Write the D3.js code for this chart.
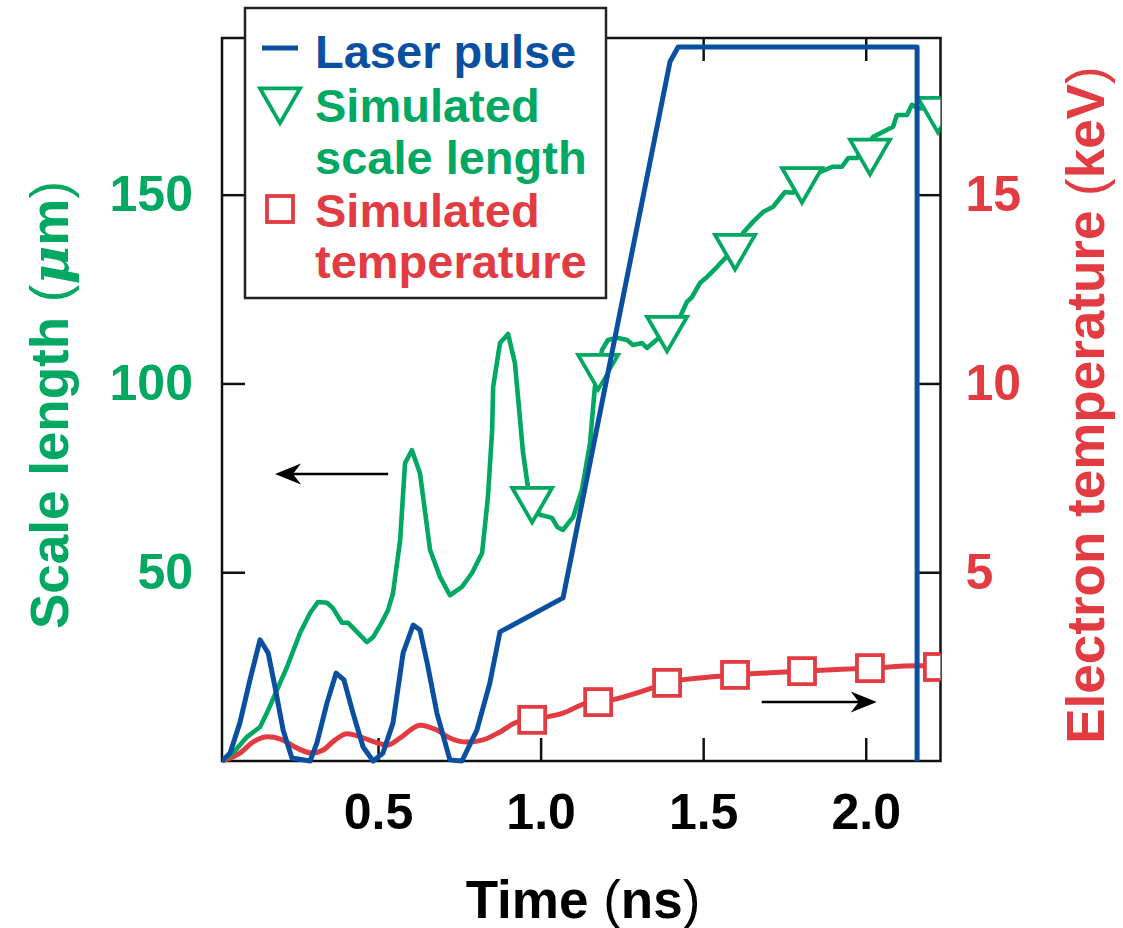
<!DOCTYPE html>
<html><head><meta charset="utf-8">
<script src="https://cdn.jsdelivr.net/npm/d3@7"></script>
<style>
body{margin:0;background:#fff}
svg{display:block}
text{font-family:"Liberation Sans",Arial,Helvetica,sans-serif;font-weight:bold}
</style>
</head><body>
<svg id="chart" width="1123" height="928"></svg>
<script>
// ---------------- DATA ----------------
// Laser pulse (arbitrary units, drawn on left-axis scale)
const laserTime  = [0.020,0.045,0.075,0.106,0.137,0.162,0.183,0.208,0.235,0.291,0.312,0.343,0.371,0.395,0.423,0.454,0.485,0.515,0.546,0.577,0.608,0.629,0.651,0.681,0.721,0.758,0.804,0.844,0.875,1.069,1.398,1.423,2.158,2.158];
const laserPower = [0,2.1,10.1,21.5,32.1,28.6,19.6,8.2,0.8,0,4.8,15.4,23.3,21.5,12.7,3.7,0,2.1,10.1,28.6,36.0,34.7,26.0,12.7,0.3,0,8.2,20.7,34.2,43.2,185.2,189.1,189.1,0];

// Simulated scale length (µm)
const scaleTime = [0.020,0.054,0.097,0.137,0.158,0.189,0.220,0.260,0.291,0.315,0.343,0.361,0.389,0.408,0.435,0.466,0.485,0.512,0.531,0.546,0.568,0.583,0.604,0.629,0.660,0.691,0.721,0.758,0.789,0.820,0.838,0.851,0.854,0.875,0.900,0.921,0.946,0.961,0.974,0.998,1.035,1.051,1.069,1.100,1.127,1.152,1.167,1.189,1.207,1.235,1.266,1.284,1.312,1.327,1.367,1.429,1.450,1.466,1.490,1.512,1.543,1.592,1.623,1.653,1.684,1.715,1.752,1.776,1.859,1.899,1.927,1.946,1.973,2.023,2.084,2.096,2.127,2.142,2.158,2.222];
const scaleLen  = [0,2.1,6.4,9.0,12.7,18.8,24.9,33.9,39.2,42.1,41.9,40.5,36.6,36.6,34.2,31.5,32.8,36.8,40.0,44.5,58.5,78.9,82.3,76.2,55.9,48.7,43.9,46.1,49.8,55.1,69.9,87.7,99.1,110.7,113.1,105.4,81.6,72.6,69.1,65.2,64.4,62.0,61.2,64.6,71.8,84.2,99.1,108.9,111.5,112.1,111.5,110.2,110.7,109.4,112.3,117.6,121.6,122.9,126.6,128.2,130.9,135.4,139.9,142.8,145.4,146.8,150.7,150.5,156.0,157.4,157.4,159.7,159.7,165.3,168.0,171.1,171.1,173.8,173.0,172.6];

// Simulated electron temperature (keV)
const tempTime = [0.020,0.075,0.115,0.162,0.200,0.251,0.297,0.331,0.368,0.405,0.445,0.497,0.528,0.568,0.629,0.681,0.721,0.774,0.823,0.875,0.927,0.974,1.020,1.069,1.146,1.180,1.220,1.352,1.389,1.490,1.598,1.804,2.013,2.158,2.222];
const tempKeV  = [0,0.21,0.50,0.64,0.58,0.34,0.21,0.29,0.56,0.72,0.64,0.48,0.42,0.61,0.95,0.82,0.61,0.50,0.56,0.77,1.03,1.09,1.17,1.27,1.54,1.56,1.62,1.96,2.07,2.20,2.28,2.38,2.46,2.52,2.52];

// Marker positions
const markerTime     = [0.974,1.177,1.389,1.598,1.804,2.013,2.222];
const scaleMarkerVal = [69.3,104.5,114.6,136.3,154.0,161.5,172.6];
const tempMarkerVal  = [1.09,1.56,2.07,2.28,2.38,2.46,2.49];

// Ticks
const xTicks = [0.5,1.0,1.5,2.0];
const xTickLabels = ["0.5","1.0","1.5","2.0"];
const leftTicks = [50,100,150];
const rightTicks = [5,10,15];

// Arrow annotations (data units): [t start, t end, value]
const leftArrow  = [0.531, 0.183, 76.0];   // scale length axis
const rightArrow = [1.680, 2.034, 1.56];   // temperature axis

const legendLabels = [["Laser pulse"],["Simulated","scale length"],["Simulated","temperature"]];

// ---------------- STYLE ----------------
const BLUE = "#0b50a0", GREEN = "#00a862", RED = "#e23b42";
const L = 222, R = 940.5, T = 38, B = 761;

const svg = d3.select("#chart");
const x  = d3.scaleLinear().domain([0.02, 2.23]).range([L, R]);
const y  = d3.scaleLinear().domain([0, 191.5]).range([B, T]);
const yR = d3.scaleLinear().domain([0, 19.15]).range([B, T]);

svg.append("defs").append("clipPath").attr("id","clip")
  .append("rect").attr("x",L).attr("y",0).attr("width",R-L).attr("height",800);

// axes (inward ticks)
function styleAxis(g){
  g.select(".domain").remove();
  g.selectAll(".tick line").attr("stroke","#111").attr("stroke-width",2.5);
  g.selectAll(".tick text").attr("font-family","'Liberation Sans',Arial,sans-serif").attr("font-weight","bold");
}
svg.append("g").attr("transform",`translate(0,${B})`)
  .call(d3.axisBottom(x).tickValues(xTicks).tickFormat((d,i)=>xTickLabels[i]).tickSize(-23).tickPadding(32))
  .call(styleAxis).call(g=>g.selectAll(".tick text").attr("font-size",50).attr("fill","#000"));
svg.append("g").attr("transform",`translate(0,${T})`)
  .call(d3.axisTop(x).tickValues(xTicks).tickFormat("").tickSize(-23)).call(styleAxis);
svg.append("g").attr("transform",`translate(${L},0)`)
  .call(d3.axisLeft(y).tickValues(leftTicks).tickSize(-23).tickPadding(29))
  .call(styleAxis).call(g=>g.selectAll(".tick text").attr("font-size",50).attr("fill",GREEN));
svg.append("g").attr("transform",`translate(${R},0)`)
  .call(d3.axisRight(yR).tickValues(rightTicks).tickSize(-23).tickPadding(25))
  .call(styleAxis).call(g=>g.selectAll(".tick text").attr("font-size",50).attr("fill",RED));

// frame
svg.append("rect").attr("x",L).attr("y",T).attr("width",R-L).attr("height",B-T)
  .attr("fill","none").attr("stroke","#111").attr("stroke-width",2.5);

const plot = svg.append("g").attr("clip-path","url(#clip)");

// temperature line + squares
const tempPts = tempTime.map((t,i)=>[t,tempKeV[i]]);
plot.append("path").datum(tempPts)
  .attr("d", d3.line().x(d=>x(d[0])).y(d=>yR(d[1])).curve(d3.curveMonotoneX))
  .attr("fill","none").attr("stroke",RED).attr("stroke-width",5);
const sq = 26;
plot.selectAll(".sq").data(markerTime.map((t,i)=>[t,tempMarkerVal[i]])).join("rect")
  .attr("x",d=>x(d[0])-sq/2).attr("y",d=>yR(d[1])-sq/2).attr("width",sq).attr("height",sq)
  .attr("fill","#fff").attr("stroke",RED).attr("stroke-width",3.8);

// scale length line + triangles
const scalePts = scaleTime.map((t,i)=>[t,scaleLen[i]]);
plot.append("path").datum(scalePts)
  .attr("d", d3.line().x(d=>x(d[0])).y(d=>y(d[1])))
  .attr("fill","none").attr("stroke",GREEN).attr("stroke-width",4.6).attr("stroke-linejoin","round");
const side = 40, h = side*Math.sqrt(3)/2;
const triPath = `M${-side/2},${-h/3}L${side/2},${-h/3}L0,${2*h/3}Z`;
plot.selectAll(".tri").data(markerTime.map((t,i)=>[t,scaleMarkerVal[i]])).join("path")
  .attr("transform",d=>`translate(${x(d[0])},${y(d[1])})`).attr("d",triPath)
  .attr("fill","#fff").attr("stroke",GREEN).attr("stroke-width",3.8);

// laser pulse on top
const laserPts = laserTime.map((t,i)=>[t,laserPower[i]]);
plot.append("path").datum(laserPts)
  .attr("d", d3.line().x(d=>x(d[0])).y(d=>y(d[1])))
  .attr("fill","none").attr("stroke",BLUE).attr("stroke-width",5).attr("stroke-linejoin","round");

// arrows
function arrow(x1,y1,x2){
  const dir = Math.sign(x2-x1), len=26, hw=10.5, notch=8;
  svg.append("line").attr("x1",x1).attr("y1",y1).attr("x2",x2-dir*notch).attr("y2",y1)
    .attr("stroke","#000").attr("stroke-width",2.5);
  svg.append("path").attr("d",`M${x2},${y1}L${x2-dir*len},${y1-hw}L${x2-dir*(len-notch)},${y1}L${x2-dir*len},${y1+hw}Z`)
    .attr("fill","#000");
}
arrow(x(leftArrow[0]), y(leftArrow[2]), x(leftArrow[1]));
arrow(x(rightArrow[0]), yR(rightArrow[2]), x(rightArrow[1]));

// legend
const lg = svg.append("g");
lg.append("rect").attr("x",245).attr("y",8).attr("width",361).attr("height",290)
  .attr("fill","#fff").attr("stroke","#222").attr("stroke-width",2.5);
lg.append("line").attr("x1",262).attr("x2",298).attr("y1",48).attr("y2",48).attr("stroke",BLUE).attr("stroke-width",5);
lg.append("path").attr("transform","translate(280,100)").attr("d",triPath)
  .attr("fill","#fff").attr("stroke",GREEN).attr("stroke-width",3.8);
lg.append("rect").attr("x",267).attr("y",196).attr("width",sq).attr("height",sq)
  .attr("fill","#fff").attr("stroke",RED).attr("stroke-width",3.8);
const legColors=[BLUE,GREEN,RED];
const baselines=[[68],[122,174],[227,278]];
legendLabels.forEach((lines,i)=>{
  lines.forEach((s,j)=>{
    lg.append("text").attr("x",315).attr("y",baselines[i][j]).attr("font-size",47).attr("fill",legColors[i]).text(s);
  });
});

// axis titles
const xt = svg.append("text").attr("x",583).attr("y",918).attr("text-anchor","middle").attr("font-size",53).attr("fill","#000");
xt.append("tspan").text("Time ");
xt.append("tspan").attr("font-weight","normal").text("(");
xt.append("tspan").text("ns");
xt.append("tspan").attr("font-weight","normal").text(")");

const lt = svg.append("text").attr("transform","translate(68,405) rotate(-90)").attr("text-anchor","middle").attr("font-size",53).attr("fill",GREEN);
lt.append("tspan").text("Scale length ");
lt.append("tspan").attr("font-weight","normal").text("(");
lt.append("tspan").attr("font-style","italic").attr("font-family","'DejaVu Serif',serif").text("\u03bc");
lt.append("tspan").text("m");
lt.append("tspan").attr("font-weight","normal").text(")");

const rt = svg.append("text").attr("transform","translate(1104,405) rotate(-90)").attr("text-anchor","middle").attr("font-size",53).attr("fill",RED);
rt.append("tspan").text("Electron temperature ");
rt.append("tspan").attr("font-weight","normal").text("(");
rt.append("tspan").text("keV");
rt.append("tspan").attr("font-weight","normal").text(")");
</script>
</body></html>
